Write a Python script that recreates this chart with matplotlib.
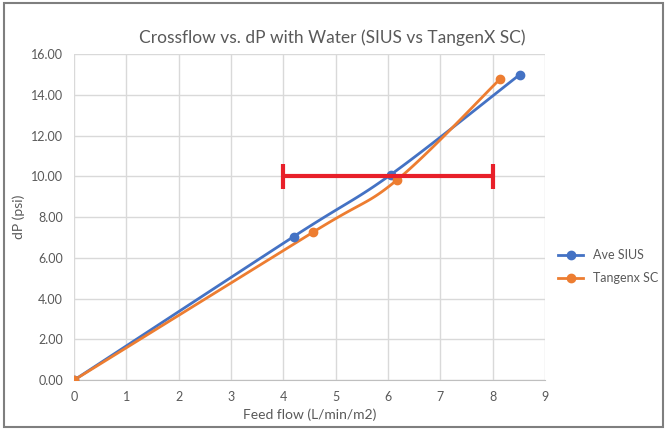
import numpy as np
import matplotlib.pyplot as plt
from matplotlib.patches import Rectangle
from matplotlib.lines import Line2D

# data
sius_x = [0, 4.2, 6.05, 8.52]
sius_y = [0, 7.05, 10.08, 15.0]
tangenx_x = [0, 4.56, 6.17, 8.15]
tangenx_y = [0, 7.25, 9.82, 14.8]
bar_center = (6.0, 10.0)
bar_halfwidth = 2.0

blue = '#4472C4'
orange = '#ED7D31'
red = '#E8202A'
grey = '#595959'


def excel_smooth(xs, ys, n=40):
    # Excel-style smoothed line: cubic Bezier with Catmull-Rom control points
    pts = np.column_stack([xs, ys]).astype(float)
    out = [pts[0]]
    for i in range(len(pts) - 1):
        p0 = pts[i - 1] if i > 0 else pts[i]
        p1, p2 = pts[i], pts[i + 1]
        p3 = pts[i + 2] if i + 2 < len(pts) else pts[i + 1]
        c1 = p1 + (p2 - p0) / 6
        c2 = p2 - (p3 - p1) / 6
        t = np.linspace(0, 1, n)[1:, None]
        seg = (1 - t) ** 3 * p1 + 3 * (1 - t) ** 2 * t * c1 + 3 * (1 - t) * t ** 2 * c2 + t ** 3 * p2
        out.extend(seg)
    out = np.array(out)
    return out[:, 0], out[:, 1]


plt.rcParams['font.family'] = ['Lato', 'DejaVu Sans']

fig = plt.figure(figsize=(6.67, 4.3), dpi=100)
ax = fig.add_axes([0.111, 0.116, 0.706, 0.758])

sx, sy = excel_smooth(sius_x, sius_y)
tx, ty = excel_smooth(tangenx_x, tangenx_y)
ax.plot(sx, sy, color=blue, lw=2, zorder=3)
ax.plot(sius_x, sius_y, 'o', color=blue, ms=6, zorder=4)
ax.plot(tx, ty, color=orange, lw=2, zorder=3)
ax.plot(tangenx_x, tangenx_y, 'o', color=orange, ms=6, zorder=4)

ax.errorbar([bar_center[0]], [bar_center[1]], xerr=[bar_halfwidth], fmt='none',
            ecolor=red, elinewidth=3, capsize=9, capthick=3, zorder=5)

ax.set_xlim(0, 9)
ax.set_ylim(0, 16)
ax.set_xticks(range(0, 10))
ax.set_yticks(np.arange(0, 17, 2))
ax.set_yticklabels([f'{v:.2f}' for v in np.arange(0, 17, 2)])
ax.grid(True, color='#D9D9D9', lw=1)
ax.set_axisbelow(True)
for s in ['top', 'right', 'left']:
    ax.spines[s].set_visible(False)
ax.spines['bottom'].set_color('#BFBFBF')
ax.tick_params(length=0, colors=grey, labelsize=9, pad=8)

ax.set_xlabel('Feed flow (L/min/m2)', color=grey, fontsize=10)
ax.set_ylabel('dP (psi)', color=grey, fontsize=10)
fig.text(0.498, 0.912, 'Crossflow vs. dP with Water (SIUS vs TangenX SC)',
         ha='center', va='center', fontsize=12.5, color=grey)

handles = [Line2D([], [], color=blue, lw=2, marker='o', ms=6),
           Line2D([], [], color=orange, lw=2, marker='o', ms=6)]
fig.legend(handles, ['Ave SIUS', 'Tangenx SC'], loc='center left',
           bbox_to_anchor=(0.82, 0.38),
           frameon=False, fontsize=9, labelcolor=grey, handlelength=2.0,
           labelspacing=0.9)

fig.add_artist(Rectangle((0.006, 0.006), 0.988, 0.988, transform=fig.transFigure,
                         fill=False, edgecolor='#7F7F7F', lw=1.5))

fig.savefig('out.png', dpi=100)
